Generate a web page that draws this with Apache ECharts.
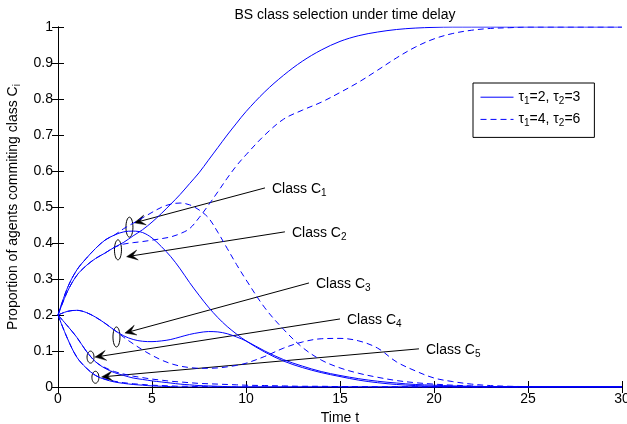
<!DOCTYPE html>
<html>
<head>
<meta charset="utf-8">
<script src="https://cdn.jsdelivr.net/npm/echarts@6/dist/echarts.min.js"></script>
<style>
html, body { margin: 0; padding: 0; background: #fff; }
#chart { width: 627px; height: 424px; }
</style>
</head>
<body>
<div id="chart"></div>
<script>
// time grid
var time_t = [0, 0.5, 1, 1.5, 2, 2.5, 3, 3.5, 4, 4.5, 5, 5.5, 6, 6.5, 7, 7.5, 8, 8.5, 9, 9.5, 10,
	11, 12, 13, 14, 15, 16, 17, 18, 19, 20, 21, 22, 23, 24, 25, 26, 27, 28, 29, 30];

// tau1=2, tau2=3 (solid)
var solid_c1 = [0.2, 0.275, 0.325, 0.357, 0.385, 0.408, 0.422, 0.431, 0.433, 0.429, 0.414, 0.39, 0.362, 0.328, 0.29, 0.255, 0.222, 0.193, 0.168, 0.147, 0.128,
	0.097, 0.072, 0.054, 0.04, 0.029, 0.019, 0.012, 0.007, 0.004, 0.002, 0.001, 0, 0, 0, 0, 0, 0, 0, 0, 0];
var solid_c2 = [0.2, 0.265, 0.31, 0.337, 0.357, 0.372, 0.388, 0.402, 0.42, 0.437, 0.458, 0.482, 0.508, 0.535, 0.565, 0.595, 0.63, 0.665, 0.7, 0.733, 0.765,
	0.82, 0.866, 0.905, 0.936, 0.96, 0.976, 0.986, 0.993, 0.997, 0.999, 1, 1, 1, 1, 1, 1, 1, 1, 1, 1];
var solid_c3 = [0.2, 0.21, 0.213, 0.207, 0.194, 0.177, 0.158, 0.142, 0.132, 0.127, 0.126, 0.128, 0.132, 0.139, 0.146, 0.151, 0.154, 0.153, 0.148, 0.139, 0.128,
	0.1, 0.076, 0.058, 0.043, 0.032, 0.023, 0.016, 0.011, 0.007, 0.005, 0.003, 0.002, 0.001, 0, 0, 0, 0, 0, 0, 0];
var solid_c4 = [0.2, 0.17, 0.138, 0.1, 0.07, 0.052, 0.04, 0.032, 0.025, 0.021, 0.017, 0.014, 0.011, 0.008, 0.006, 0.004, 0.003, 0.002, 0.001, 0, 0,
	0, 0, 0, 0, 0, 0, 0, 0, 0, 0, 0, 0, 0, 0, 0, 0, 0, 0, 0, 0];
var solid_c5 = [0.2, 0.135, 0.083, 0.053, 0.032, 0.021, 0.014, 0.01, 0.007, 0.005, 0.003, 0.002, 0.001, 0, 0, 0, 0, 0, 0, 0, 0,
	0, 0, 0, 0, 0, 0, 0, 0, 0, 0, 0, 0, 0, 0, 0, 0, 0, 0, 0, 0];

// tau1=4, tau2=6 (dashed)
var dash_c1 = [0.2, 0.275, 0.325, 0.357, 0.385, 0.408, 0.422, 0.44, 0.455, 0.47, 0.485, 0.499, 0.508, 0.511, 0.506, 0.492, 0.47, 0.43, 0.385, 0.34, 0.298,
	0.22, 0.16, 0.11, 0.075, 0.053, 0.038, 0.027, 0.018, 0.012, 0.008, 0.005, 0.003, 0.001, 0, 0, 0, 0, 0, 0, 0];
var dash_c2 = [0.2, 0.265, 0.31, 0.337, 0.357, 0.372, 0.388, 0.397, 0.401, 0.404, 0.408, 0.412, 0.417, 0.426, 0.44, 0.47, 0.505, 0.542, 0.58, 0.615, 0.645,
	0.7, 0.744, 0.769, 0.791, 0.818, 0.847, 0.88, 0.914, 0.944, 0.967, 0.982, 0.991, 0.996, 0.998, 1, 1, 1, 1, 1, 1];
var dash_c3 = [0.2, 0.21, 0.213, 0.207, 0.194, 0.177, 0.158, 0.138, 0.12, 0.103, 0.088, 0.075, 0.065, 0.058, 0.054, 0.052, 0.052, 0.053, 0.056, 0.06, 0.066,
	0.085, 0.108, 0.125, 0.134, 0.135, 0.128, 0.108, 0.07, 0.045, 0.025, 0.015, 0.008, 0.004, 0.002, 0.001, 0, 0, 0, 0, 0];
var dash_c4 = [0.2, 0.17, 0.138, 0.1, 0.07, 0.054, 0.043, 0.036, 0.03, 0.026, 0.022, 0.019, 0.016, 0.014, 0.012, 0.01, 0.009, 0.008, 0.007, 0.006, 0.005,
	0.004, 0.003, 0.002, 0.002, 0.001, 0.001, 0, 0, 0, 0, 0, 0, 0, 0, 0, 0, 0, 0, 0, 0];
var dash_c5 = [0.2, 0.135, 0.083, 0.053, 0.032, 0.022, 0.016, 0.012, 0.009, 0.007, 0.005, 0.004, 0.003, 0.002, 0.002, 0.001, 0.001, 0, 0, 0, 0,
	0, 0, 0, 0, 0, 0, 0, 0, 0, 0, 0, 0, 0, 0, 0, 0, 0, 0, 0, 0];

var legend_names = ['τ1=2, τ2=3', 'τ1=4, τ2=6'];

// annotations, in data coordinates: label end of arrow, arrow tip, ellipse centre
var note_class = ['1', '2', '3', '4', '5'];
var note_start = [[11.01, 0.553], [12.07, 0.431], [13.35, 0.289], [15.0, 0.189], [19.2, 0.106]];
var note_tip = [[4.06, 0.456], [3.65, 0.362], [3.56, 0.15], [1.97, 0.083], [2.32, 0.028]];
var note_ring = [[3.8, 0.444], [3.19, 0.381], [3.11, 0.139], [1.73, 0.083], [1.99, 0.027]];

var FONT = '"Liberation Sans", Arial, Helvetica, sans-serif';
var BLUE = '#0000ff';

var rich_txt = {
	a: { fontSize: 14, lineHeight: 18, fontFamily: FONT, color: '#000' },
	s: { fontSize: 10, fontFamily: FONT, color: '#000', verticalAlign: 'bottom' }
};

function pairs(vals) {
	var out = [];
	for (var i = 0; i < time_t.length; i++) {
		out.push([time_t[i], vals[i]]);
	}
	return out;
}

function line_series(name, vals, dashed) {
	return {
		name: name,
		type: 'line',
		data: pairs(vals),
		smooth: 0.35,
		showSymbol: false,
		symbol: 'none',
		silent: true,
		lineStyle: { color: BLUE, width: 1, type: dashed ? [6, 4] : 'solid' },
		itemStyle: { color: BLUE }
	};
}

var series = [
	line_series(legend_names[0], solid_c1, false),
	line_series(legend_names[0], solid_c2, false),
	line_series(legend_names[0], solid_c3, false),
	line_series(legend_names[0], solid_c4, false),
	line_series(legend_names[0], solid_c5, false),
	line_series(legend_names[1], dash_c1, true),
	line_series(legend_names[1], dash_c2, true),
	line_series(legend_names[1], dash_c3, true),
	line_series(legend_names[1], dash_c4, true),
	line_series(legend_names[1], dash_c5, true)
];

var axis_common = {
	axisLine: { show: true, lineStyle: { color: '#000', width: 1 } },
	axisTick: { show: true, inside: true, length: 6, lineStyle: { color: '#000' } },
	splitLine: { show: false }
};

var myChart = echarts.init(document.getElementById('chart'));

var option = {
	animation: false,
	backgroundColor: '#fff',
	title: {
		text: 'BS class selection under time delay',
		left: 340,
		textAlign: 'center',
		top: 3,
		textStyle: { fontSize: 14, fontWeight: 'normal', fontFamily: FONT, color: '#000' }
	},
	grid: { left: 58, right: 5, top: 27, bottom: 37, containLabel: false, outerBoundsMode: 'none' },
	legend: {
		data: legend_names,
		orient: 'vertical',
		left: 473,
		top: 83,
		itemWidth: 33,
		itemHeight: 18,
		itemGap: 6,
		padding: [7, 14, 9, 7],
		borderColor: '#000',
		borderWidth: 1,
		backgroundColor: '#fff',
		selectedMode: false,
		itemStyle: { opacity: 0 },
		lineStyle: { width: 1 },
		formatter: function(name) {
			var p = name.split(', ');
			var a = p[0].split('=');
			var b = p[1].split('=');
			return '{a|τ}{s|1}{a|=' + a[1] + ', τ}{s|2}{a|=' + b[1] + '}';
		},
		textStyle: { rich: rich_txt }
	},
	xAxis: [
		Object.assign({
			type: 'value', min: 0, max: 30, interval: 5, position: 'bottom',
			name: 'Time t', nameLocation: 'middle', nameGap: 12,
			nameTextStyle: { fontSize: 14, fontFamily: FONT, color: '#000' },
			axisLabel: { fontSize: 14, fontFamily: FONT, color: '#000', margin: 5 }
		}, axis_common),
		Object.assign({
			type: 'value', min: 0, max: 30, interval: 5, position: 'top',
			axisLabel: { show: false }
		}, axis_common)
	],
	yAxis: [
		Object.assign({
			type: 'value', min: 0, max: 1, interval: 0.1, position: 'left',
			name: '{a|Proportion of agents commiting class C}{s|i}', nameLocation: 'middle', nameGap: 29,
			nameTextStyle: { rich: rich_txt },
			axisLabel: { fontSize: 14, fontFamily: FONT, color: '#000', margin: 5 }
		}, axis_common),
		Object.assign({
			type: 'value', min: 0, max: 1, interval: 0.1, position: 'right',
			axisLabel: { show: false }
		}, axis_common)
	],
	series: series
};

myChart.setOption(option);

// arrows, ellipses and labels placed from data coordinates
function make_notes() {
	var g = [];
	for (var i = 0; i < note_class.length; i++) {
		var s = myChart.convertToPixel({ gridIndex: 0 }, note_start[i]);
		var p = myChart.convertToPixel({ gridIndex: 0 }, note_tip[i]);
		var r = myChart.convertToPixel({ gridIndex: 0 }, note_ring[i]);
		var dx = p[0] - s[0], dy = p[1] - s[1];
		var len = Math.sqrt(dx * dx + dy * dy);
		var ux = dx / len, uy = dy / len;
		var nx = -uy, ny = ux;
		var L = 11, W = 5;
		var notch = [p[0] - ux * L * 0.55, p[1] - uy * L * 0.55];
		g.push({
			type: 'line', silent: true,
			shape: { x1: s[0], y1: s[1], x2: notch[0], y2: notch[1] },
			style: { stroke: '#000', lineWidth: 1 }
		});
		g.push({
			type: 'polygon', silent: true,
			shape: { points: [
				p,
				[p[0] - ux * L + nx * W, p[1] - uy * L + ny * W],
				notch,
				[p[0] - ux * L - nx * W, p[1] - uy * L - ny * W]
			] },
			style: { fill: '#000', stroke: '#000', lineWidth: 0.5 }
		});
		var ry = i < 3 ? 10 : 6;
		g.push({
			type: 'ellipse', silent: true,
			shape: { cx: r[0], cy: r[1], rx: 3.5, ry: ry },
			style: { fill: 'none', stroke: '#000', lineWidth: 1 }
		});
		g.push({
			type: 'text', silent: true,
			x: s[0] + 7, y: s[1] + 1,
			style: {
				text: '{a|Class C}{s|' + note_class[i] + '}',
				rich: rich_txt,
				verticalAlign: 'middle',
				align: 'left'
			}
		});
	}
	myChart.setOption({ graphic: g });
}
make_notes();
</script>
</body>
</html>
